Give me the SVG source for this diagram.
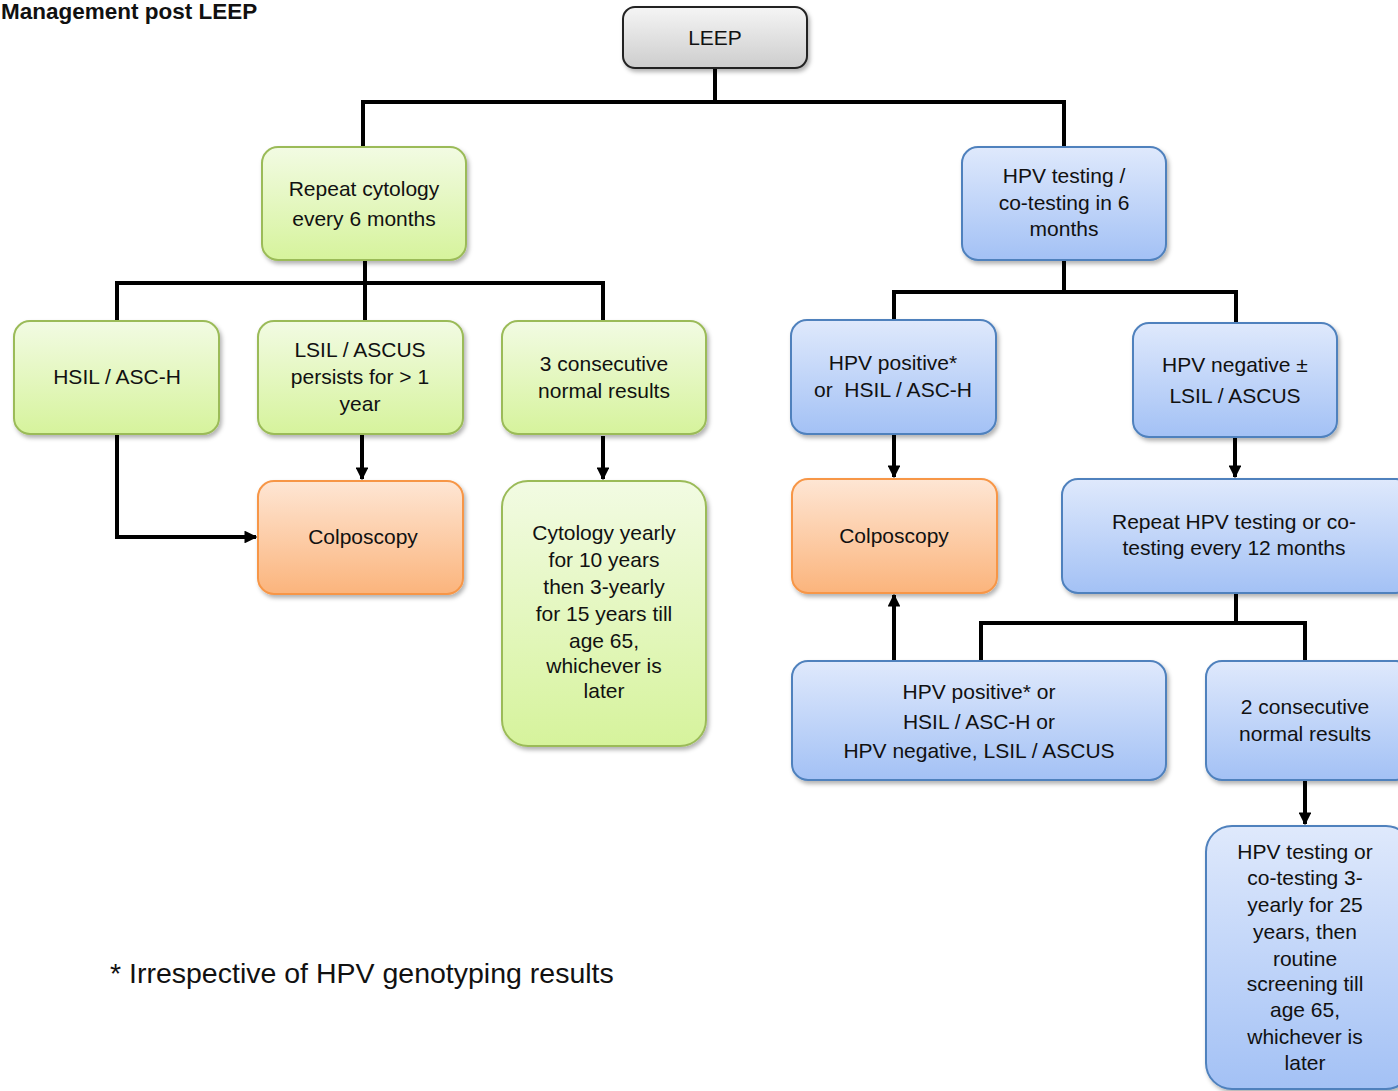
<svg xmlns="http://www.w3.org/2000/svg" width="1398" height="1091" viewBox="0 0 1398 1091">
<style>
text{font-family:"Liberation Sans",Arial,sans-serif;fill:#111;}
.t{font-size:21px;text-anchor:middle;}
.g rect{fill:url(#gG);stroke:#9bbb59;stroke-width:2;filter:url(#sh);}
.b rect{fill:url(#gB);stroke:#4f81bd;stroke-width:2;filter:url(#sh);}
.o rect{fill:url(#gO);stroke:#f79646;stroke-width:2;filter:url(#sh);}
.k rect{fill:url(#gK);stroke:#222;stroke-width:2;filter:url(#sh);}
.c{fill:none;stroke:#000;stroke-width:4;}
.a{fill:none;stroke:#000;stroke-width:4;marker-end:url(#ar);}
</style>
<defs>
<linearGradient id="gG" x1="0" y1="0" x2="0" y2="1"><stop offset="0" stop-color="#f2fbe3"/><stop offset="1" stop-color="#d6f39c"/></linearGradient>
<linearGradient id="gB" x1="0" y1="0" x2="0" y2="1"><stop offset="0" stop-color="#dfe9fc"/><stop offset="1" stop-color="#a3c1f5"/></linearGradient>
<linearGradient id="gO" x1="0" y1="0" x2="0" y2="1"><stop offset="0" stop-color="#fee6d4"/><stop offset="1" stop-color="#fbb47c"/></linearGradient>
<linearGradient id="gK" x1="0" y1="0" x2="0" y2="1"><stop offset="0" stop-color="#f5f5f5"/><stop offset="1" stop-color="#cdcdcd"/></linearGradient>
<filter id="sh" x="-10%" y="-10%" width="130%" height="130%"><feDropShadow dx="2" dy="3" stdDeviation="2" flood-color="#000" flood-opacity="0.3"/></filter>
<marker id="ar" viewBox="0 0 10 10" refX="9" refY="5" markerWidth="3.2" markerHeight="3.2" orient="auto" markerUnits="strokeWidth"><path d="M0,0 L10,5 L0,10 z" fill="#000"/></marker>
</defs>

<text x="1" y="19" style="font-size:22.5px;font-weight:bold">Management post LEEP</text>

<g id="connectors">
<path class="c" d="M715,68 V102 M363,147 V102 H1064 V147"/>
<path class="c" d="M365,260 V283 M117,321 V283 H603 V321 M365,283 V321"/>
<path class="a" d="M362,434 V479"/>
<path class="a" d="M117,434 V537 H256"/>
<path class="a" d="M603,436 V479"/>
<path class="c" d="M1064,260 V292 M894,320 V292 H1236 V323"/>
<path class="a" d="M894,434 V477"/>
<path class="a" d="M1235,437 V477"/>
<path class="c" d="M1236,593 V623 M981,661 V623 H1305 V661"/>
<path class="a" d="M894,661 V595"/>
<path class="a" d="M1305,780 V824"/>
</g>

<g id="leep" class="k"><rect x="623" y="7" width="184" height="61" rx="12"/><text class="t" x="715" y="45">LEEP</text></g>

<g id="repeat-cytology" class="g"><rect x="262" y="147" width="204" height="113" rx="16"/><text class="t" x="364" y="196">Repeat cytology</text><text class="t" x="364" y="226">every 6 months</text></g>

<g id="hpv-testing" class="b"><rect x="962" y="147" width="204" height="113" rx="16"/><text class="t" x="1064" y="183">HPV testing /</text><text class="t" x="1064" y="210">co-testing in 6</text><text class="t" x="1064" y="236">months</text></g>

<g id="hsil" class="g"><rect x="14" y="321" width="205" height="113" rx="16"/><text class="t" x="117" y="384">HSIL / ASC-H</text></g>

<g id="lsil" class="g"><rect x="258" y="321" width="205" height="113" rx="16"/><text class="t" x="360" y="357">LSIL / ASCUS</text><text class="t" x="360" y="384">persists for &gt; 1</text><text class="t" x="360" y="411">year</text></g>

<g id="three-normal" class="g"><rect x="502" y="321" width="204" height="113" rx="16"/><text class="t" x="604" y="371">3 consecutive</text><text class="t" x="604" y="398">normal results</text></g>

<g id="colpo-left" class="o"><rect x="258" y="481" width="205" height="113" rx="16"/><text class="t" x="363" y="544">Colposcopy</text></g>

<g id="cytology-yearly" class="g"><rect x="502" y="481" width="204" height="265" rx="26"/>
<text class="t" x="604" y="540">Cytology yearly</text><text class="t" x="604" y="567">for 10 years</text><text class="t" x="604" y="594">then 3-yearly</text><text class="t" x="604" y="621">for 15 years till</text><text class="t" x="604" y="648">age 65,</text><text class="t" x="604" y="673">whichever is</text><text class="t" x="604" y="698">later</text></g>

<g id="hpv-pos" class="b"><rect x="791" y="320" width="205" height="114" rx="16"/><text class="t" x="893" y="370">HPV positive*</text><text class="t" x="893" y="397" xml:space="preserve">or  HSIL / ASC-H</text></g>

<g id="hpv-neg" class="b"><rect x="1133" y="323" width="204" height="114" rx="16"/><text class="t" x="1235" y="372">HPV negative ±</text><text class="t" x="1235" y="403">LSIL / ASCUS</text></g>

<g id="colpo-right" class="o"><rect x="792" y="479" width="205" height="114" rx="16"/><text class="t" x="894" y="543">Colposcopy</text></g>

<g id="repeat-hpv" class="b"><rect x="1062" y="479" width="350" height="114" rx="16"/><text class="t" x="1234" y="529">Repeat HPV testing or co-</text><text class="t" x="1234" y="555">testing every 12 months</text></g>

<g id="hpv-pos2" class="b"><rect x="792" y="661" width="374" height="119" rx="16"/><text class="t" x="979" y="699">HPV positive* or</text><text class="t" x="979" y="729">HSIL / ASC-H or</text><text class="t" x="979" y="758">HPV negative, LSIL / ASCUS</text></g>

<g id="two-normal" class="b"><rect x="1206" y="661" width="206" height="119" rx="16"/><text class="t" x="1305" y="714">2 consecutive</text><text class="t" x="1305" y="741">normal results</text></g>

<g id="hpv-3yearly" class="b"><rect x="1206" y="826" width="206" height="263" rx="26"/>
<text class="t" x="1305" y="859">HPV testing or</text><text class="t" x="1305" y="885">co-testing 3-</text><text class="t" x="1305" y="912">yearly for 25</text><text class="t" x="1305" y="939">years, then</text><text class="t" x="1305" y="966">routine</text><text class="t" x="1305" y="991">screening till</text><text class="t" x="1305" y="1017">age 65,</text><text class="t" x="1305" y="1044">whichever is</text><text class="t" x="1305" y="1070">later</text></g>

<text x="110" y="983" style="font-size:28.5px">* Irrespective of HPV genotyping results</text>
</svg>
